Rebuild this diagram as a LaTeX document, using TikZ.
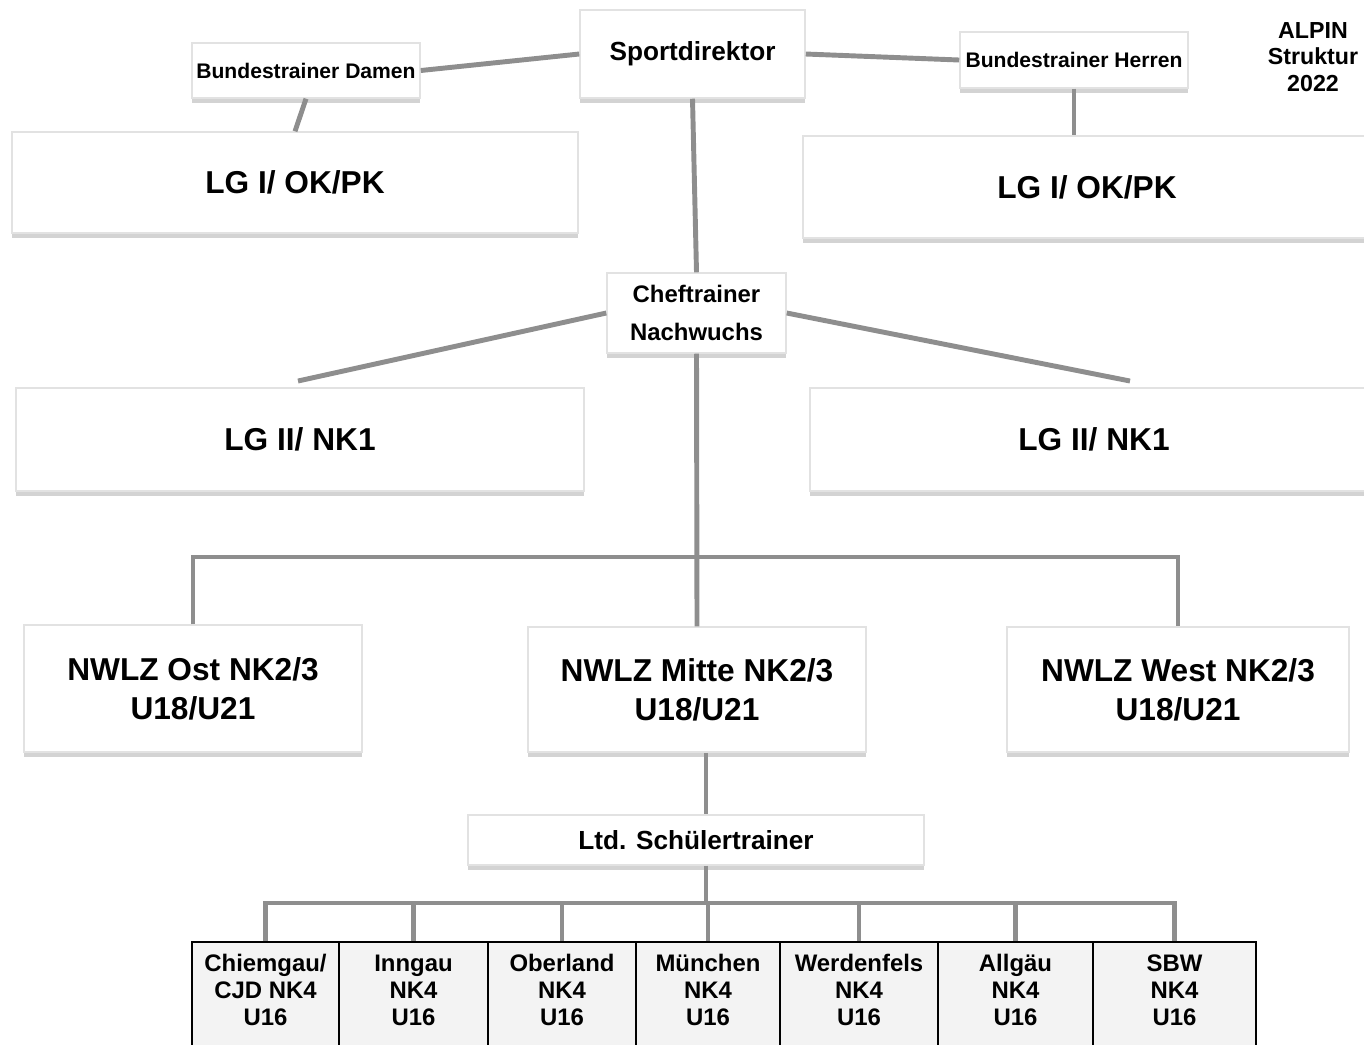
\documentclass[tikz,border=0pt]{standalone}
\usepackage{fontspec}
\setmainfont{Liberation Sans}
\usetikzlibrary{calc, shadows}
\definecolor{cline}{HTML}{8E8E8E}
\definecolor{ccell}{HTML}{F3F3F3}
\definecolor{cedge}{HTML}{E2E2E2}
\tikzset{
  every picture/.style={x=0.01cm, y=-0.01cm},
  box/.style={draw=cedge, fill=white, line width=0.4pt, align=center, inner sep=1pt,
    drop shadow={shadow xshift=0pt, shadow yshift=-0.05cm, opacity=0.35}},
  cell/.style={draw=black, fill=ccell, line width=0.6pt, align=center, inner sep=1pt, text depth=2.9pt,
    anchor=north, minimum height=1.06cm, font=\bfseries\fontsize{6.8}{7.7}\selectfont},
  conn/.style={draw=cline, line width=1.4pt},
  big/.style={font=\bfseries\fontsize{9}{11.1}\selectfont},
  mid/.style={font=\bfseries\fontsize{7.45}{9}\selectfont},
  small/.style={font=\bfseries\fontsize{6}{7}\selectfont},
}
\begin{document}
\begin{tikzpicture}
  \useasboundingbox (0,0) rectangle (1364,1044);
  % top level
  \node[box, mid, minimum width=2.25cm, minimum height=0.88cm] (sport) at (692.5,54) {Sportdirektor};
  \node[box, small, minimum width=2.28cm, minimum height=0.55cm] (damen) at (306,70.5) {Bundestrainer Damen};
  \node[box, small, minimum width=2.28cm, minimum height=0.56cm] (herren) at (1074,60) {Bundestrainer Herren};
  \node[font=\bfseries\fontsize{6.6}{7.5}\selectfont, align=center] (title) at (1313,57) {ALPIN\\Struktur\\2022};
  \node[box, big, minimum width=5.66cm, minimum height=1.01cm] (lgIl) at (295,182.5) {LG I/ OK/PK};
  \node[box, big, minimum width=5.68cm, minimum height=1.02cm] (lgIr) at (1087,187) {LG I/ OK/PK};
  % Nachwuchs
  \node[box, font=\bfseries\fontsize{6.8}{10.8}\selectfont, minimum width=1.79cm, minimum height=0.8cm] (chef) at (696.5,313) {Cheftrainer\\Nachwuchs};
  \node[box, big, minimum width=5.68cm, minimum height=1.03cm] (lgIIl) at (300,439.5) {LG II/ NK1};
  \node[box, big, minimum width=5.68cm, minimum height=1.03cm] (lgIIr) at (1094,439.5) {LG II/ NK1};
  \node[box, big, minimum width=3.38cm, minimum height=1.27cm] (ost) at (193,688.5) {NWLZ Ost NK2/3\\U18/U21};
  \node[box, big, minimum width=3.38cm, minimum height=1.25cm] (mitte) at (697,689.5) {NWLZ Mitte NK2/3\\U18/U21};
  \node[box, big, minimum width=3.42cm, minimum height=1.25cm] (west) at (1178,689.5) {NWLZ West NK2/3\\U18/U21};
  \node[box, mid, minimum width=4.56cm, minimum height=0.5cm] (schueler) at (696,840) {Ltd. Schülertrainer};
  % Stützpunkte
  \foreach \nm/\x/\w/\txt in {chiem/265.5/1.47/{Chiemgau/\\CJD NK4\\U16}, inn/413.5/1.49/{Inngau\\NK4\\U16},
      ober/562/1.48/{Oberland\\NK4\\U16}, muen/708/1.44/{München\\NK4\\U16}, werd/859/1.58/{Werdenfels\\NK4\\U16},
      allg/1015.5/1.55/{Allgäu\\NK4\\U16}, sbw/1174.5/1.63/{SBW\\NK4\\U16}}
    \node[cell, minimum width=\w cm] (\nm) at (\x,941) {\txt};
  % connectors
  \coordinate (endL) at (298,381);
  \coordinate (endR) at (1130,381);
  \coordinate (split) at (696,557);
  \coordinate (sub) at (706,903);
  \draw[conn] (sport.west) -- (damen.east);
  \draw[conn] (sport.east) -- (herren.west);
  \draw[conn] (damen.south) -- (lgIl.north);
  \draw[conn] (herren.south) -- (herren.south |- lgIr.north);
  \draw[conn] (sport.south) -- (chef.north);
  \draw[conn] (chef.west) -- (endL);
  \draw[conn] (chef.east) -- (endR);
  \draw[conn] (chef.south) -- (mitte.north);
  \draw[conn] (ost.north) -- (ost.north |- split) -- (west.north |- split) -- (west.north);
  \draw[conn] (sub |- mitte.south) -- (sub |- schueler.north);
  \draw[conn] (sub |- schueler.south) -- (sub);
  \draw[conn] (chiem.north) -- (chiem.north |- sub) -- (sbw.north |- sub) -- (sbw.north);
  \foreach \nm in {inn, ober, muen, werd, allg}
    \draw[conn] (\nm.north |- sub) -- (\nm.north);
\end{tikzpicture}
\end{document}
